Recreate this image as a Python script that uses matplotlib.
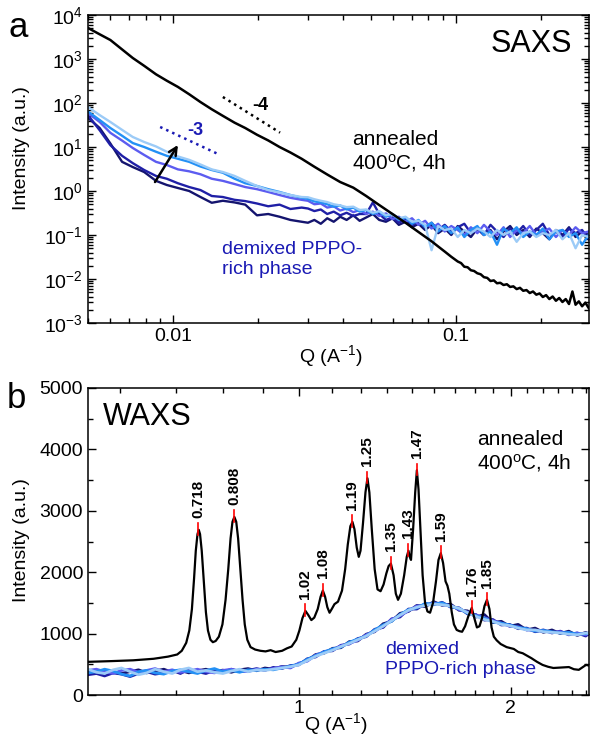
"""
SAXS / WAXS of annealed sample vs demixed PPPO-rich phase (two panels).
"""

import matplotlib
matplotlib.use("Agg")
import matplotlib.pyplot as plt
from matplotlib.ticker import FixedLocator, FixedFormatter, NullFormatter, LogLocator

plt.rcParams['font.family'] = ['Liberation Sans', 'DejaVu Sans']
plt.rcParams['mathtext.default'] = 'regular'
plt.rcParams['axes.unicode_minus'] = False

# ---------------- panel a : SAXS ----------------
SAXS_Q = [0.0050, 0.0055, 0.0060, 0.0066, 0.0072, 0.0079, 0.0087, 0.0095, 0.0104, 0.0114,
          0.0125, 0.0137, 0.0150, 0.0165, 0.0180, 0.0198, 0.0217, 0.0238, 0.0260, 0.0285,
          0.0300, 0.0316, 0.0333, 0.0351, 0.0370, 0.0390, 0.0411, 0.0434, 0.0457, 0.0482,
          0.0509, 0.0536, 0.0566, 0.0597, 0.0629, 0.0664, 0.0700, 0.0738, 0.0779, 0.0821,
          0.0866, 0.0914, 0.0964, 0.1016, 0.1072, 0.1131, 0.1192, 0.1258, 0.1327, 0.1399,
          0.1476, 0.1557, 0.1642, 0.1732, 0.1827, 0.1927, 0.2032, 0.2143, 0.2261, 0.2384,
          0.2515, 0.2653, 0.2798, 0.2951]

SAXS_DEMIX_1 = [46, 27, 12, 4.6, 3.5, 2.7, 1.7, 1.37, 1.17, 1.0,
                0.73, 0.54, 0.6, 0.55, 0.49, 0.28, 0.3, 0.26, 0.22, 0.2,
                0.19, 0.22, 0.18, 0.24, 0.2, 0.26, 0.22, 0.28, 0.21, 0.25,
                0.3, 0.22, 0.2, 0.24, 0.17, 0.2, 0.15, 0.18, 0.13, 0.17,
                0.11, 0.14, 0.1, 0.16, 0.12, 0.09, 0.14, 0.1, 0.13, 0.08,
                0.12, 0.16, 0.1, 0.13, 0.09, 0.14, 0.11, 0.08, 0.13, 0.1,
                0.15, 0.09, 0.12, 0.1]
SAXS_DEMIX_2 = [53, 24, 11, 6.3, 4.3, 3.0, 2.2, 1.9, 1.5, 1.23,
                1.05, 0.77, 0.73, 0.63, 0.59, 0.52, 0.45, 0.49, 0.39, 0.42,
                0.4, 0.35, 0.38, 0.3, 0.34, 0.28, 0.32, 0.27, 0.3, 0.3,
                0.55, 0.3, 0.22, 0.25, 0.19, 0.23, 0.17, 0.2, 0.15, 0.19,
                0.13, 0.17, 0.12, 0.15, 0.18, 0.11, 0.14, 0.1, 0.17, 0.12,
                0.09, 0.14, 0.11, 0.16, 0.1, 0.13, 0.18, 0.1, 0.12, 0.09,
                0.14, 0.11, 0.13, 0.08]
SAXS_DEMIX_3 = [59, 37, 21, 14, 9.5, 6.6, 4.6, 3.9, 3.1, 2.8,
                2.4, 1.9, 1.7, 1.44, 1.23, 1.1, 0.95, 0.81, 0.7, 0.63,
                0.6, 0.5, 0.52, 0.42, 0.45, 0.36, 0.4, 0.33, 0.37, 0.3,
                0.34, 0.27, 0.31, 0.23, 0.26, 0.2, 0.24, 0.17, 0.21, 0.14,
                0.18, 0.12, 0.16, 0.13, 0.1, 0.15, 0.11, 0.17, 0.12, 0.1,
                0.15, 0.09, 0.13, 0.11, 0.16, 0.1, 0.12, 0.14, 0.09, 0.13,
                0.1, 0.15, 0.11, 0.12]
SAXS_DEMIX_4 = [64, 41, 27, 18, 12.3, 10, 7.8, 6.3, 5.4, 4.6,
                3.6, 3.0, 2.6, 1.9, 1.5, 1.3, 1.1, 0.95, 0.81, 0.7,
                0.66, 0.58, 0.55, 0.5, 0.44, 0.47, 0.38, 0.42, 0.34, 0.37,
                0.3, 0.34, 0.26, 0.3, 0.22, 0.25, 0.18, 0.22, 0.15, 0.19,
                0.12, 0.16, 0.11, 0.15, 0.09, 0.13, 0.16, 0.1, 0.12, 0.06,
                0.14, 0.11, 0.15, 0.09, 0.12, 0.1, 0.14, 0.08, 0.12, 0.13,
                0.09, 0.11, 0.06, 0.1]
SAXS_DEMIX_5 = [81, 53, 37, 24.5, 16.9, 13, 10.3, 7.8, 6.1, 5.1,
                4.0, 3.1, 2.7, 2.2, 1.7, 1.3, 1.05, 0.93, 0.81, 0.73,
                0.72, 0.65, 0.6, 0.56, 0.5, 0.47, 0.43, 0.44, 0.37, 0.38,
                0.32, 0.35, 0.28, 0.3, 0.24, 0.26, 0.2, 0.21, 0.17, 0.045,
                0.16, 0.13, 0.14, 0.09, 0.13, 0.11, 0.14, 0.12, 0.09, 0.13,
                0.1, 0.12, 0.07, 0.11, 0.12, 0.09, 0.11, 0.1, 0.13, 0.08,
                0.11, 0.05, 0.1, 0.09]

SAXS_ANNEAL_Q = [0.0050, 0.0055, 0.0060, 0.0066, 0.0072, 0.0079, 0.0087, 0.0095, 0.0104, 0.0114,
                 0.0125, 0.0137, 0.0150, 0.0165, 0.0180, 0.0198, 0.0217, 0.0238, 0.0260, 0.0285,
                 0.0316, 0.0351, 0.0390, 0.0434, 0.0482, 0.0536, 0.0597, 0.0664, 0.0738, 0.0821,
                 0.0866, 0.0914, 0.0964, 0.1016, 0.1044, 0.1072, 0.1101, 0.1131, 0.1161, 0.1192,
                 0.1225, 0.1258, 0.1292, 0.1327, 0.1363, 0.1399, 0.1437, 0.1476, 0.1516, 0.1557,
                 0.1599, 0.1642, 0.1687, 0.1732, 0.1779, 0.1827, 0.1876, 0.1927, 0.1979, 0.2032,
                 0.2087, 0.2143, 0.2201, 0.2261, 0.2322, 0.2384, 0.2449, 0.2515, 0.2586, 0.2653,
                 0.2725, 0.2798, 0.2874, 0.2951]
SAXS_ANNEAL_I = [5070, 3640, 2700, 1650, 1054, 700, 449, 321, 232, 158,
                 105, 72, 51, 35.7, 27, 19, 14.1, 10, 7.5, 5.4,
                 3.56, 2.37, 1.6, 1.19, 0.77, 0.48, 0.30, 0.19, 0.117, 0.072,
                 0.055, 0.042, 0.032, 0.025, 0.023, 0.019, 0.0185, 0.0158, 0.0152, 0.0135,
                 0.0128, 0.0110, 0.0106, 0.0090, 0.0093, 0.0080, 0.0082, 0.0073, 0.0076, 0.0066,
                 0.0068, 0.0059, 0.0063, 0.0054, 0.0056, 0.0048, 0.0052, 0.0044, 0.0047, 0.0039,
                 0.0043, 0.0035, 0.0040, 0.0032, 0.0037, 0.0030, 0.0035, 0.0027, 0.0052, 0.0026,
                 0.0031, 0.0024, 0.0029, 0.0022]

# power-law guides
SLOPE4_Q = [0.0150, 0.0239]
SLOPE4_I = [137, 21.2]
SLOPE3_Q = [0.0090, 0.0144]
SLOPE3_I = [28.5, 6.96]
ARROW_START = (0.00863, 1.6)
ARROW_END = (0.0104, 11.1)

# ---------------- panel b : WAXS ----------------
WAXS_ANNEAL_Q = [0.500, 0.540, 0.580, 0.620, 0.650, 0.670, 0.680, 0.690, 0.697, 0.703,
                 0.708, 0.712, 0.716, 0.719, 0.722, 0.726, 0.731, 0.736, 0.741, 0.747,
                 0.753, 0.760, 0.768, 0.777, 0.785, 0.792, 0.798, 0.803, 0.808, 0.813,
                 0.818, 0.824, 0.830, 0.836, 0.843, 0.852, 0.865, 0.880, 0.895, 0.910,
                 0.925, 0.945, 0.960, 0.975, 0.990, 1.000, 1.010, 1.020, 1.030, 1.040,
                 1.050, 1.062, 1.072, 1.080, 1.088, 1.096, 1.104, 1.112, 1.122, 1.135,
                 1.150, 1.162, 1.172, 1.182, 1.190, 1.198, 1.207, 1.215, 1.222, 1.232,
                 1.242, 1.250, 1.258, 1.268, 1.280, 1.292, 1.305, 1.318, 1.330, 1.340,
                 1.350, 1.362, 1.372, 1.382, 1.395, 1.410, 1.422, 1.430, 1.436, 1.442,
                 1.452, 1.462, 1.470, 1.478, 1.488, 1.498, 1.510, 1.522, 1.535, 1.550,
                 1.565, 1.578, 1.590, 1.602, 1.615, 1.625, 1.635, 1.648, 1.660, 1.675,
                 1.690, 1.705, 1.722, 1.740, 1.760, 1.775, 1.790, 1.805, 1.820, 1.835,
                 1.850, 1.865, 1.878, 1.892, 1.910, 1.935, 1.973, 2.020, 2.050, 2.080,
                 2.110, 2.140, 2.180, 2.220, 2.260, 2.300, 2.340, 2.380, 2.420, 2.460,
                 2.500, 2.530, 2.560, 2.585]
WAXS_ANNEAL_I = [540, 552, 565, 590, 625, 660, 720, 850, 1050, 1400,
                 1900, 2350, 2620, 2690, 2620, 2350, 1850, 1350, 1050, 900,
                 860, 880, 950, 1150, 1550, 2050, 2550, 2820, 2900, 2820,
                 2550, 2050, 1550, 1150, 900, 780, 740, 720, 710, 730,
                 700, 720, 760, 790, 900, 1050, 1250, 1370, 1300, 1220,
                 1260, 1400, 1600, 1700, 1600, 1430, 1340, 1400, 1480, 1520,
                 1700, 2050, 2450, 2750, 2820, 2700, 2400, 2250, 2350, 2800,
                 3300, 3530, 3300, 2700, 2050, 1720, 1690, 1800, 1980, 2100,
                 2140, 1950, 1650, 1550, 1650, 1950, 2250, 2350, 2250, 2200,
                 2700, 3300, 3660, 3350, 2650, 1950, 1500, 1360, 1340, 1500,
                 1850, 2200, 2310, 2150, 1850, 1780, 1650, 1350, 1150, 1060,
                 1040, 1030, 1120, 1280, 1420, 1250, 1100, 1120, 1250, 1450,
                 1550, 1400, 1100, 950, 890, 830, 780, 750, 700, 680,
                 640, 600, 540, 490, 460, 440, 445, 450, 455, 420,
                 410, 450, 490, 480]

PEAK_Q = [0.718, 0.808, 1.02, 1.08, 1.19, 1.25, 1.35, 1.43, 1.47, 1.59, 1.76, 1.85]
PEAK_I = [2690, 2900, 1370, 1700, 2820, 3530, 2140, 2350, 3660, 2310, 1420, 1550]
PEAK_LABELS = ['0.718', '0.808', '1.02', '1.08', '1.19', '1.25', '1.35', '1.43',
               '1.47', '1.59', '1.76', '1.85']

WAXS_Q = [0.500, 0.514, 0.528, 0.543, 0.558, 0.574, 0.590, 0.606, 0.623, 0.641,
          0.659, 0.677, 0.696, 0.716, 0.736, 0.757, 0.778, 0.800, 0.822, 0.845,
          0.869, 0.893, 0.918, 0.944, 0.971, 0.998, 1.026, 1.055, 1.084, 1.115,
          1.146, 1.178, 1.211, 1.245, 1.280, 1.316, 1.353, 1.391, 1.430, 1.470,
          1.511, 1.554, 1.597, 1.642, 1.688, 1.736, 1.784, 1.834, 1.886, 1.939,
          1.993, 2.049, 2.107, 2.166, 2.226, 2.289, 2.353, 2.419, 2.487, 2.557, 2.585]

WAXS_DEMIX_1 = [380, 360, 400, 370, 350, 380, 410, 360, 390, 420,
                370, 400, 360, 395, 420, 380, 405, 370, 410, 430,
                395, 440, 420, 465, 450, 510, 560, 660, 680, 760,
                770, 870, 880, 990, 1030, 1160, 1200, 1330, 1360, 1460,
                1440, 1520, 1460, 1480, 1380, 1370, 1270, 1310, 1180, 1200,
                1120, 1150, 1060, 1090, 1020, 1060, 1000, 1040, 970, 1020, 990]
WAXS_DEMIX_2 = [330, 350, 310, 360, 340, 300, 350, 380, 340, 360,
                400, 350, 420, 380, 350, 400, 370, 420, 380, 400,
                430, 400, 450, 430, 480, 490, 590, 620, 710, 720,
                810, 830, 920, 950, 1070, 1100, 1240, 1270, 1400, 1400,
                1490, 1470, 1510, 1430, 1420, 1320, 1310, 1220, 1230, 1140,
                1150, 1080, 1090, 1030, 1060, 1010, 1040, 980, 1010, 960, 1000]
WAXS_DEMIX_3 = [400, 420, 380, 350, 400, 420, 370, 400, 430, 380,
                410, 370, 390, 420, 380, 360, 400, 420, 390, 380,
                420, 410, 430, 460, 440, 520, 550, 650, 700, 740,
                800, 840, 890, 980, 1040, 1120, 1230, 1290, 1370, 1450,
                1460, 1500, 1470, 1460, 1390, 1350, 1300, 1260, 1210, 1170,
                1120, 1110, 1060, 1050, 1040, 1020, 1030, 990, 1010, 980, 1010]
WAXS_DEMIX_4 = [360, 380, 420, 390, 340, 310, 380, 400, 360, 340,
                390, 410, 380, 350, 400, 430, 380, 400, 370, 410,
                400, 420, 410, 440, 470, 500, 580, 640, 700, 750,
                780, 860, 910, 960, 1060, 1140, 1200, 1310, 1390, 1420,
                1490, 1480, 1500, 1440, 1410, 1330, 1290, 1250, 1190, 1170,
                1140, 1100, 1080, 1040, 1050, 1030, 1010, 1020, 990, 1000, 1010]
WAXS_DEMIX_5 = [420, 370, 350, 410, 440, 380, 330, 360, 420, 380,
                350, 410, 440, 380, 400, 370, 350, 390, 420, 380,
                410, 400, 420, 440, 460, 490, 560, 630, 680, 730,
                790, 840, 900, 960, 1040, 1120, 1210, 1300, 1380, 1430,
                1460, 1480, 1470, 1450, 1410, 1340, 1280, 1230, 1200, 1150,
                1130, 1090, 1060, 1060, 1030, 1020, 1010, 990, 980, 1010, 1000]

DEMIX_COLORS = ['#14146e', '#1f1fa6', '#5c5cf0', '#2390f5', '#9ccbf7']
TEXT_BLUE = '#1a1ab4'

W, H = 590, 738


def style_axes(ax):
    for sp in ax.spines.values():
        sp.set_linewidth(1.1)
    ax.tick_params(which='both', direction='in', top=True, right=True,
                   labelsize=14, width=1.0)
    ax.tick_params(which='major', length=6)
    ax.tick_params(which='minor', length=3.5)


def plot_saxs(ax):
    demix = [SAXS_DEMIX_1, SAXS_DEMIX_2, SAXS_DEMIX_3, SAXS_DEMIX_4, SAXS_DEMIX_5]
    for vals, col in zip(demix, DEMIX_COLORS):
        ax.plot(SAXS_Q, vals, color=col, lw=1.7)
    ax.plot(SAXS_ANNEAL_Q, SAXS_ANNEAL_I, color='black', lw=1.8)

    ax.plot(SLOPE4_Q, SLOPE4_I, color='black', ls=':', lw=1.8)
    ax.plot(SLOPE3_Q, SLOPE3_I, color=TEXT_BLUE, ls=':', lw=1.8)
    ax.annotate('', xy=ARROW_END, xytext=ARROW_START,
                arrowprops=dict(arrowstyle='->', color='black', lw=1.8,
                                mutation_scale=14, shrinkA=0, shrinkB=0))

    ax.set_xscale('log')
    ax.set_yscale('log')
    ax.set_xlim(0.005, 0.296)
    ax.set_ylim(1e-3, 1e4)
    ax.xaxis.set_major_locator(FixedLocator([0.01, 0.1]))
    ax.xaxis.set_major_formatter(FixedFormatter(['0.01', '0.1']))
    ax.xaxis.set_minor_locator(LogLocator(base=10, subs=range(2, 10), numticks=20))
    ax.xaxis.set_minor_formatter(NullFormatter())
    ax.yaxis.set_major_locator(LogLocator(base=10, numticks=20))
    ax.yaxis.set_minor_locator(LogLocator(base=10, subs=range(2, 10), numticks=20))
    ax.yaxis.set_minor_formatter(NullFormatter())
    style_axes(ax)

    tr = ax.transAxes
    ax.text(0.966, 0.88, 'SAXS', transform=tr, ha='right', va='baseline', fontsize=22)
    ax.text(0.527, 0.627, 'annealed\n400$^o$C, 4h', transform=tr, ha='left', va='top',
            fontsize=15, linespacing=1.2)
    ax.text(0.267, 0.266, 'demixed PPPO-\nrich phase', transform=tr, ha='left', va='top',
            fontsize=14, color=TEXT_BLUE, linespacing=1.25)
    ax.text(0.327, 0.692, '-4', transform=tr, ha='left', va='baseline', fontsize=13,
            fontweight='bold')
    ax.text(0.198, 0.61, '-3', transform=tr, ha='left', va='baseline', fontsize=13,
            fontweight='bold', color=TEXT_BLUE)
    ax.text(0.485, -0.065, 'Q (A$^{-1}$)', transform=tr, ha='center', va='top', fontsize=14)


def plot_waxs(ax):
    demix = [WAXS_DEMIX_1, WAXS_DEMIX_2, WAXS_DEMIX_3, WAXS_DEMIX_4, WAXS_DEMIX_5]
    for vals, col in zip(demix, DEMIX_COLORS):
        ax.plot(WAXS_Q, vals, color=col, lw=2.0)
    ax.plot(WAXS_ANNEAL_Q, WAXS_ANNEAL_I, color='black', lw=1.6)

    for q, i, lab in zip(PEAK_Q, PEAK_I, PEAK_LABELS):
        ax.plot([q, q], [i - 80, i + 110], color='red', lw=1.2)
        ax.text(q, i + 200, lab, rotation=90, ha='center', va='bottom',
                fontsize=11, fontweight='bold')

    ax.set_xscale('log')
    ax.set_xlim(0.5, 2.585)
    ax.set_ylim(0, 5000)
    minor = [k / 9 for k in range(5, 24) if k not in (9, 18)]
    ax.xaxis.set_major_locator(FixedLocator([1, 2]))
    ax.xaxis.set_major_formatter(FixedFormatter(['1', '2']))
    ax.xaxis.set_minor_locator(FixedLocator(minor))
    ax.xaxis.set_minor_formatter(NullFormatter())
    ax.yaxis.set_major_locator(FixedLocator([0, 1000, 2000, 3000, 4000, 5000]))
    ax.yaxis.set_minor_locator(FixedLocator([500, 1500, 2500, 3500, 4500]))
    style_axes(ax)

    tr = ax.transAxes
    ax.text(0.03, 0.879, 'WAXS', transform=tr, ha='left', va='baseline', fontsize=22)
    ax.text(0.776, 0.863, 'annealed\n400$^o$C, 4h', transform=tr, ha='left', va='top',
            fontsize=15, linespacing=1.2)
    ax.text(0.593, 0.176, 'demixed\nPPPO-rich phase', transform=tr, ha='left', va='top',
            fontsize=14, color=TEXT_BLUE, linespacing=1.25)
    ax.text(0.495, -0.052, 'Q (A$^{-1}$)', transform=tr, ha='center', va='top', fontsize=14)


def main():
    fig = plt.figure(figsize=(W / 100, H / 100), dpi=100)
    ax_a = fig.add_axes([88 / W, 1 - 323 / H, 501 / W, 308 / H])
    ax_b = fig.add_axes([88 / W, 1 - 695 / H, 501 / W, 307 / H])

    plot_saxs(ax_a)
    plot_waxs(ax_b)

    fig.text(8 / W, 1 - 37 / H, 'a', fontsize=25, ha='left', va='baseline')
    fig.text(7 / W, 1 - 408 / H, 'b', fontsize=25, ha='left', va='baseline')
    fig.text(22 / W, 1 - 148 / H, 'Intensity (a.u.)', rotation=90, fontsize=14,
             ha='center', va='center')
    fig.text(22 / W, 1 - 540 / H, 'Intensity (a.u.)', rotation=90, fontsize=14,
             ha='center', va='center')

    fig.savefig('out.png', dpi=100)


if __name__ == "__main__":
    main()
